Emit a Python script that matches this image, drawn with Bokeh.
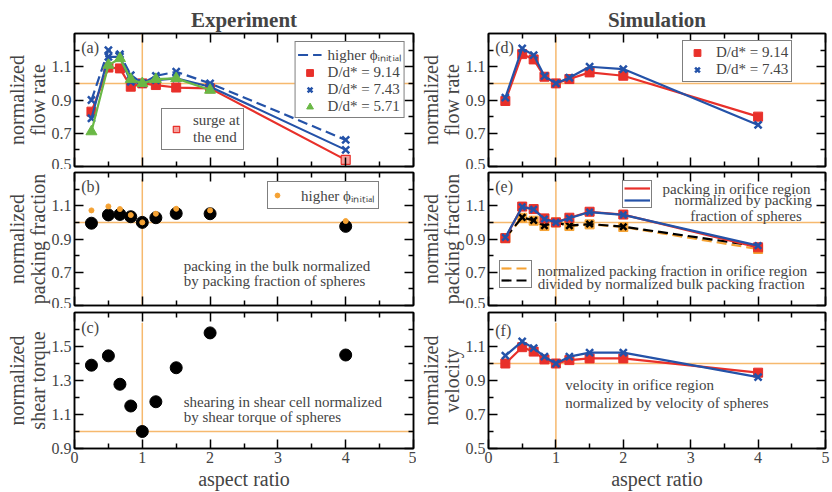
from bokeh.plotting import figure
from bokeh.layouts import column, row
from bokeh.models import (Span, Label, Legend, LegendItem, FixedTicker, LinearAxis, Range1d)
from bokeh.embed import file_html
from bokeh.resources import INLINE

FONT = "Liberation Serif"

# ---------------- data ----------------
aspect_ratio = [0.25, 0.5, 0.67, 0.83, 1.0, 1.2, 1.5, 2.0, 4.0]

# (a) experiment: normalized flow rate
exp_flow_914 = [0.83, 1.095, 1.09, 0.98, 1.0, 0.99, 0.975, 0.97, 0.54]
exp_flow_743 = [0.79, 1.16, 1.16, 1.01, 1.0, 1.02, 1.03, 0.98, 0.60]
exp_flow_743_high = [0.90, 1.20, 1.175, 1.05, 1.0, 1.045, 1.07, 1.0, 0.66]
exp_flow_571 = [0.71, 1.11, 1.15, 1.025, 1.0, 1.025, 1.03, 0.96]

# (b) experiment: normalized bulk packing fraction
exp_pack = [0.995, 1.045, 1.048, 1.034, 1.0, 1.028, 1.054, 1.052, 0.976]
exp_pack_high = [1.072, 1.096, 1.08, 1.044, 1.0, 1.052, 1.082, 1.072, 1.008]

# (c) experiment: normalized shear torque
exp_torque = [1.39, 1.445, 1.278, 1.15, 1.0, 1.175, 1.375, 1.58, 1.45]

# (d) simulation: normalized flow rate
sim_flow_914 = [0.894, 1.176, 1.144, 1.04, 1.0, 1.026, 1.066, 1.046, 0.80]
sim_flow_743 = [0.914, 1.21, 1.17, 1.044, 1.0, 1.034, 1.10, 1.086, 0.75]

# (e) simulation: packing fraction in orifice region
sim_pack_914 = [0.905, 1.095, 1.08, 1.024, 1.0, 1.028, 1.064, 1.047, 0.85]
sim_pack_743 = [0.91, 1.093, 1.078, 1.02, 1.0, 1.025, 1.062, 1.045, 0.86]
sim_pack_div_914 = [0.905, 1.028, 1.01, 0.978, 1.0, 0.978, 0.988, 0.972, 0.84]
sim_pack_div_743 = [0.91, 1.03, 1.012, 0.98, 1.0, 0.98, 0.99, 0.974, 0.857]

# (f) simulation: normalized velocity
sim_vel_914 = [1.0, 1.096, 1.07, 1.024, 1.0, 1.02, 1.03, 1.03, 0.946]
sim_vel_743 = [1.046, 1.13, 1.09, 1.04, 1.0, 1.04, 1.064, 1.064, 0.92]

x_ticks = [0, 1, 2, 3, 4, 5]
x_minor = [0.5, 1.5, 2.5, 3.5, 4.5]
y_ticks_norm = [0.5, 0.7, 0.9, 1.1]
y_minor_norm = [0.6, 0.8, 1.0, 1.2]
y_ticks_torque = [0.9, 1.1, 1.3, 1.5]
y_minor_torque = [1.0, 1.2, 1.4, 1.6]

REF = 1.0
HIGHER_PHI = "higher \u03d5\u1d62\u2099\u1d62\u209c\u1d62\u2090\u2097"

# ---------------- style ----------------
RED = "#e8302a"
BLUE = "#2452a8"
GREEN = "#6ab845"
ORANGE = "#f5a233"
REFC = "#f6b96e"
SURGE_FILL = "#f4a09c"
LW = 2.2


def panel(width, height, borders, yr, yt, ym, ylabel, xlabels=False, title=None, title_offset=0):
    l, r, t, b = borders
    p = figure(width=width, height=height, x_range=Range1d(0, 5), y_range=Range1d(*yr),
               output_backend="svg", toolbar_location=None,
               x_axis_location=None, y_axis_location=None,
               min_border_left=l, min_border_right=r, min_border_top=t, min_border_bottom=b,
               background_fill_color="white", border_fill_color="white")
    p.outline_line_color = "black"
    p.outline_line_width = 1.5
    p.grid.visible = False
    for side in ("below", "above", "left", "right"):
        is_x = side in ("below", "above")
        ticks = x_ticks if is_x else yt
        tk = FixedTicker(ticks=ticks, minor_ticks=x_minor if is_x else ym)
        ax = LinearAxis(ticker=tk)
        ax.axis_line_color = "black"
        ax.axis_line_width = 1.5
        ax.major_tick_in = 9
        ax.major_tick_out = 0
        ax.minor_tick_in = 5
        ax.minor_tick_out = 0
        ax.major_tick_line_width = 1.5
        ax.minor_tick_line_width = 1.5
        ax.major_label_text_font = FONT
        ax.major_label_text_font_size = "16px"
        show = side == "left" or (side == "below" and xlabels)
        if show:
            ax.major_label_standoff = 3
        else:
            ax.major_label_overrides = {t_: "" for t_ in ticks}
            ax.major_label_standoff = 0
        if side == "left":
            ax.axis_label = ylabel
        if side == "below" and xlabels:
            ax.axis_label = "aspect ratio"
        ax.axis_label_text_font = FONT
        ax.axis_label_text_font_size = "20px"
        ax.axis_label_text_font_style = "normal"
        ax.axis_label_text_line_height = 0.95
        ax.axis_label_standoff = 0 if side == "left" else 2
        p.add_layout(ax, side)
    if title:
        p.title.text = title
        p.title.text_font = FONT
        p.title.text_font_size = "21px"
        p.title.text_font_style = "bold"
        p.title.align = "center"
        p.title.offset = title_offset
        p.title.standoff = 4
    return p


def ref_lines(p, vlo, vhi):
    p.add_layout(Span(location=REF, dimension="width", line_color=REFC, line_width=1.5, level="underlay"))
    p.segment(x0=[REF], y0=[vlo], x1=[REF], y1=[vhi], line_color=REFC, line_width=1.5, level="underlay")


def tag(p, text, x, y, size="16px", align="left"):
    p.add_layout(Label(x=x, y=y, text=text, text_font=FONT, text_font_size=size,
                       text_baseline="middle", text_align=align, level="overlay"))


def legend(p, items, loc, glyph_w=24, glyph_h=17, pad=2, standoff=6, margin=0, lh=1.0, label_h=None, label_w=0):
    lg = Legend(items=items, location=loc, orientation="vertical",
                border_line_color="black", border_line_width=1.5,
                background_fill_color="white", background_fill_alpha=1.0,
                label_text_font=FONT, label_text_font_size="15px",
                padding=pad, spacing=0, margin=margin,
                glyph_width=glyph_w, glyph_height=glyph_h,
                label_height=glyph_h if label_h is None else label_h, label_width=label_w,
                label_standoff=standoff, label_text_line_height=lh)
    p.add_layout(lg)
    return lg


LW_COL = 416
RW_COL = 416
ROW_H = (169, 139, 184)

# ---------------- (a) ----------------
pa = panel(LW_COL, ROW_H[0], (74, 3, 33, 3), (0.5, 1.3), y_ticks_norm, y_minor_norm,
           "normalized\nflow rate", title="Experiment", title_offset=-8)
ref_lines(pa, 0.5, 1.3)
pa.line(aspect_ratio, exp_flow_914, line_color=RED, line_width=LW)
r_a914 = pa.scatter(aspect_ratio[:-1], exp_flow_914[:-1], marker="square", size=9, color=RED)
r_surge = pa.scatter(aspect_ratio[-1:], exp_flow_914[-1:], marker="square", size=9,
                     fill_color=SURGE_FILL, line_color=RED, line_width=1.2)
pa.line(aspect_ratio, exp_flow_743, line_color=BLUE, line_width=LW)
r_a743 = pa.scatter(aspect_ratio, exp_flow_743, marker="x", size=10, line_color=BLUE, line_width=2.5)
r_ahigh = pa.line(aspect_ratio, exp_flow_743_high, line_color=BLUE, line_width=LW, line_dash="10 5")
pa.scatter(aspect_ratio, exp_flow_743_high, marker="x", size=10, line_color=BLUE, line_width=2.5)
pa.line(aspect_ratio[:len(exp_flow_571)], exp_flow_571, line_color=GREEN, line_width=LW)
r_a571 = pa.scatter(aspect_ratio[:len(exp_flow_571)], exp_flow_571, marker="triangle", size=11, color=GREEN)
legend(pa, [LegendItem(label=HIGHER_PHI, renderers=[r_ahigh]),
            LegendItem(label="D/d* = 9.14", renderers=[r_a914]),
            LegendItem(label="D/d* = 7.43", renderers=[r_a743]),
            LegendItem(label="D/d* = 5.71", renderers=[r_a571])],
       "top_right", margin=8)
legend(pa, [LegendItem(label="surge at\nthe end", renderers=[r_surge])], (87, 16),
       glyph_w=22, glyph_h=16, pad=3, standoff=6, lh=0.95)
tag(pa, "(a)", 0.10, 1.215)

# ---------------- (b) ----------------
pb = panel(LW_COL, ROW_H[1], (74, 3, 3, 3), (0.5, 1.3), y_ticks_norm, y_minor_norm,
           "normalized\npacking fraction")
ref_lines(pb, 0.5, 1.26)
pb.scatter(aspect_ratio, exp_pack, marker="circle", size=12, color="black")
r_bhigh = pb.scatter(aspect_ratio, exp_pack_high, marker="circle", size=5, color=ORANGE)
legend(pb, [LegendItem(label=HIGHER_PHI, renderers=[r_bhigh])], (193, 96),
       glyph_w=12, glyph_h=20, pad=3, standoff=18)
tag(pb, "(b)", 0.10, 1.215)
tag(pb, "packing in the bulk normalized", 1.61, 0.74, size="15px")
tag(pb, "by packing fraction of spheres", 1.61, 0.65, size="15px")

# ---------------- (c) ----------------
pc = panel(LW_COL, ROW_H[2], (74, 3, 4, 44), (0.9, 1.7), y_ticks_torque, y_minor_torque,
           "normalized\nshear torque", xlabels=True)
ref_lines(pc, REF, 1.64)
pc.scatter(aspect_ratio, exp_torque, marker="circle", size=12, color="black")
tag(pc, "(c)", 0.10, 1.614)
tag(pc, "shearing in shear cell normalized", 1.61, 1.176, size="15px")
tag(pc, "by shear torque of spheres", 1.61, 1.088, size="15px")

# ---------------- (d) ----------------
pd_ = panel(RW_COL, ROW_H[0], (72, 7, 33, 3), (0.5, 1.3), y_ticks_norm, y_minor_norm,
            "normalized\nflow rate", title="Simulation", title_offset=98)
ref_lines(pd_, 0.5, 1.28)
pd_.line(aspect_ratio, sim_flow_914, line_color=RED, line_width=LW)
r_d914 = pd_.scatter(aspect_ratio, sim_flow_914, marker="square", size=9, color=RED)
pd_.line(aspect_ratio, sim_flow_743, line_color=BLUE, line_width=LW)
r_d743 = pd_.scatter(aspect_ratio, sim_flow_743, marker="x", size=10, line_color=BLUE, line_width=2.5)
legend(pd_, [LegendItem(label="D/d* = 9.14", renderers=[r_d914]),
             LegendItem(label="D/d* = 7.43", renderers=[r_d743])], (194, 84),
       glyph_w=22, glyph_h=17, pad=3, standoff=8)
tag(pd_, "(d)", 0.10, 1.215)

# ---------------- (e) ----------------
pe = panel(RW_COL, ROW_H[1], (72, 7, 3, 3), (0.5, 1.3), y_ticks_norm, y_minor_norm,
           "normalized\npacking fraction")
ref_lines(pe, 0.5, 1.25)
r_eo = pe.line(aspect_ratio, sim_pack_div_914, line_color=ORANGE, line_width=LW, line_dash="10 5")
pe.scatter(aspect_ratio, sim_pack_div_914, marker="square", size=9, color=ORANGE)
r_ek = pe.line(aspect_ratio, sim_pack_div_743, line_color="black", line_width=LW, line_dash="10 5")
pe.scatter(aspect_ratio, sim_pack_div_743, marker="x", size=9, line_color="black", line_width=2.5)
r_er = pe.line(aspect_ratio, sim_pack_914, line_color=RED, line_width=LW)
pe.scatter(aspect_ratio, sim_pack_914, marker="square", size=9, color=RED)
r_eb = pe.line(aspect_ratio, sim_pack_743, line_color=BLUE, line_width=LW)
pe.scatter(aspect_ratio, sim_pack_743, marker="x", size=9, line_color=BLUE, line_width=2.5)
legend(pe, [LegendItem(label=" ", renderers=[r_er]), LegendItem(label=" ", renderers=[r_eb])],
       (134, 97), glyph_w=26, glyph_h=12, pad=1, standoff=0)
legend(pe, [LegendItem(label=" ", renderers=[r_eo]), LegendItem(label=" ", renderers=[r_ek])],
       (11, 17), glyph_w=29, glyph_h=12, pad=1, standoff=0)
tag(pe, "(e)", 0.10, 1.215)
tag(pe, "packing in orifice region", 3.68, 1.198, size="15px", align="center")
tag(pe, "normalized by packing", 3.78, 1.132, size="15px", align="center")
tag(pe, "fraction of spheres", 3.82, 1.041, size="15px", align="center")
tag(pe, "normalized packing fraction in orifice region", 0.73, 0.71, size="15px")
tag(pe, "divided by normalized bulk packing fraction", 0.73, 0.63, size="15px")

# ---------------- (f) ----------------
pf = panel(RW_COL, ROW_H[2], (72, 7, 4, 44), (0.5, 1.3), y_ticks_norm, y_minor_norm,
           "normalized\nvelocity", xlabels=True)
ref_lines(pf, 0.5, 1.24)
pf.line(aspect_ratio, sim_vel_914, line_color=RED, line_width=LW)
pf.scatter(aspect_ratio, sim_vel_914, marker="square", size=9, color=RED)
pf.line(aspect_ratio, sim_vel_743, line_color=BLUE, line_width=LW)
pf.scatter(aspect_ratio, sim_vel_743, marker="x", size=10, line_color=BLUE, line_width=2.5)
tag(pf, "(f)", 0.10, 1.194)
tag(pf, "velocity in orifice region", 1.14, 0.871, size="15px")
tag(pf, "normalized by velocity of spheres", 1.14, 0.765, size="15px")

layout = column(row(pa, pd_), row(pb, pe), row(pc, pf))

with open("out.html", "w") as f:
    f.write(file_html(layout, INLINE))
